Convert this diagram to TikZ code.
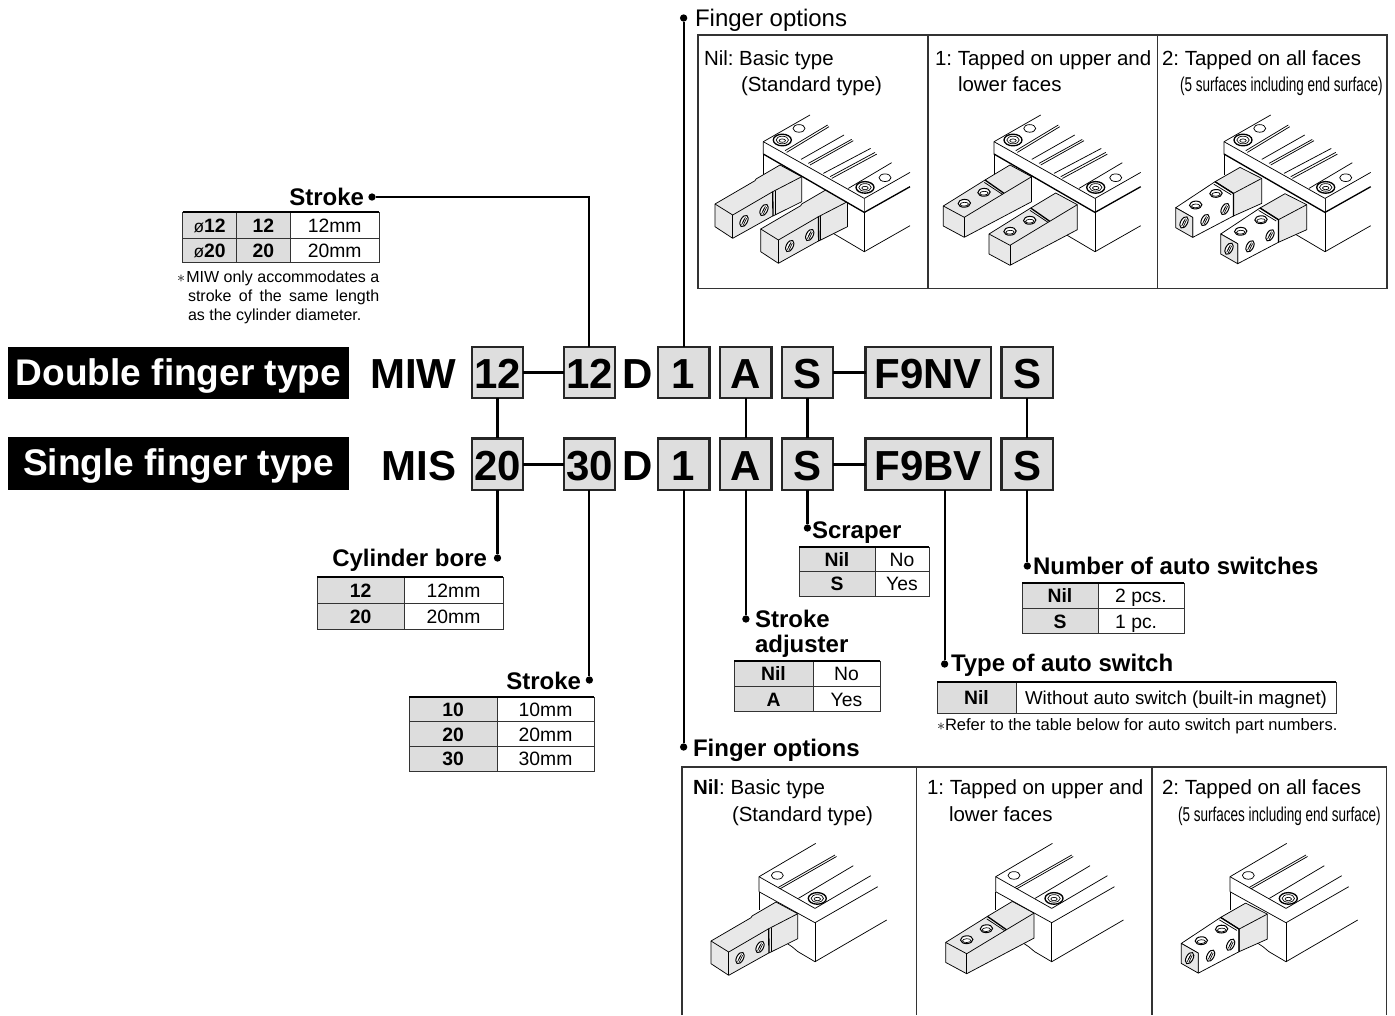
\documentclass[tikz,border=0pt]{standalone}
\usepackage{fontspec}
\setmainfont{Liberation Sans}
\newfontfamily\narrowfont[FakeStretch=0.675]{Liberation Sans}
\usepackage{tikz}
\usetikzlibrary{positioning,calc}
\definecolor{boxGray}{RGB}{222,222,222}
\definecolor{keyGray}{RGB}{221,221,221}
\definecolor{partGray}{RGB}{232,232,232}
\newcommand{\fs}[1]{\fontsize{#1}{#1}\selectfont}
\frenchspacing
\tikzset{
    codebox/.style={rectangle, draw=black!85, fill=boxGray, line width=1.8pt,
                  minimum width=#1, minimum height=38.5pt, inner sep=0pt, outer sep=0pt,
                  text height=24.5pt, text depth=0pt, font=\fs{31.5}\bfseries},
    codebox/.default=38.5pt,
    codetext/.style={inner sep=0pt, outer sep=0pt, text height=24.5pt, text depth=0pt,
                  font=\fs{31.5}\bfseries},
    bannerbox/.style={rectangle, fill=black, text=white, minimum width=255.75pt, minimum height=39.5pt,
                  inner sep=0pt, outer sep=0pt, text height=21pt, text depth=3pt, font=\fs{27.8}\bfseries},
    keycell/.style 2 args={rectangle, draw=black!80, fill=keyGray, line width=.7pt,
                  minimum width=#1, minimum height=#2, inner sep=0pt, outer sep=0pt,
                  text height=10.5pt, text depth=0pt, font=\fs{14.5}\bfseries},
    valcell/.style 2 args={rectangle, draw=black!80, line width=.7pt,
                  minimum width=#1, minimum height=#2, inner sep=0pt, outer sep=0pt,
                  text height=10.5pt, text depth=0pt, font=\fs{14.5}},
    tabtop/.style={draw, line width=1.4pt},
    titletext/.style={inner sep=0pt, outer sep=0pt, anchor=base west, font=\fs{18}\bfseries},
    paneltext/.style={inner sep=0pt, outer sep=0pt, anchor=base west, font=\fs{15.35}},
    notetext/.style={inner sep=0pt, outer sep=0pt, anchor=base west, font=\fs{12}},
    dot/.style={circle, fill=black, inner sep=0pt, outer sep=0pt, minimum size=5.5pt},
    rowline/.style={draw, line width=2.2pt},
    tieline/.style={draw, line width=1.6pt},
    panelline/.style={draw=black!80, line width=.8pt},
    part/.style={draw, line width=.55pt, line join=round},
    partfill/.style={part, fill=partGray},
    heavy/.style={draw, line width=1pt},
    thin/.style={draw, line width=.5pt},
    holeline/.style={draw, line width=.75pt}
}
% finger with side holes, drawn from its upper left corner
\newcommand{\sidehole}[1]{
  \draw[holeline, fill=white] (#1) ellipse [x radius=3.4, y radius=6.2, rotate=-28];
  \draw[thin] ($(#1)+(-2.4,3.6)$) -- ($(#1)+(1.4,-3.8)$);
  \draw[thin] ($(#1)+(-.8,4.4)$) -- ($(#1)+(2.6,-2.8)$);
  \draw[thin] ($(#1)+(-1.2,1.2)$) -- ($(#1)+(.4,-2)$);
}
\newcommand{\tophole}[1]{
  \draw[holeline, fill=white] (#1) ellipse [x radius=6.2, y radius=3.9, rotate=3];
  \draw[thin] ($(#1)+(0,.9)$) ellipse [x radius=4.2, y radius=1.9, rotate=3];
}
\newcommand{\fingerSide}{
  \path[partfill] (0,0) -- (40,-23.3) -- (41,-25) -- (65,-39) -- (86.7,-27.3) -- (86.7,-2.3)
    -- (60,11) -- (57.7,12) -- (17.7,34.3) -- (0,22.7) -- cycle;
  \draw[part] (0,0) -- (17.7,11) -- (57.7,-12.3) -- (86.7,-27.3);
  \draw[part] (17.7,11) -- (17.7,34.3);
  \draw[heavy] (57.7,-12.3) -- (58,12);
  \draw[part] (60,-13) -- (60,11);
  \sidehole{29,17}
  \sidehole{49,6}
}
\newcommand{\fingerTop}{
  \path[partfill] (0,0) -- (41.7,-26) -- (66.7,-41) -- (88.3,-29.3) -- (88.3,-4.3)
    -- (21,31.3) -- (0,20) -- cycle;
  \draw[part] (0,0) -- (21,11.3) -- (60.7,-12.7) -- (88.3,-29.3);
  \draw[part] (21,11.3) -- (21,31.3);
  \draw[heavy] (41.7,-26) -- (60.7,-12.7);
  \draw[part] (41,-23.6) -- (59,-11.7);
  \tophole{21,-2.7}
  \tophole{40.7,-13.7}
}
\newcommand{\fingerAll}{
  \path[partfill] (39.3,-26) -- (64.3,-40.3) -- (86,-29.3) -- (86,-4.3) -- (57.7,8.3) -- (57.7,-14.3) -- cycle;
  \path[part, fill=white] (0,0) -- (39.3,-26) -- (57.7,-14.3) -- (57.7,8.3) -- (17,29.7) -- (17,9.7) -- cycle;
  \path[partfill] (0,0) -- (17,9.7) -- (17,29.7) -- (0,20) -- cycle;
  \draw[part] (57.7,-14.3) -- (86,-29.3);
  \draw[heavy] (39.3,-26) -- (57.7,-14.3) -- (57.7,8.3);
  \draw[part] (38,-23.6) -- (55.5,-13);
  \tophole{20,-2.7}
  \tophole{40.3,-14.3}
  \sidehole{29.3,12.3}
  \sidehole{49.3,1.3}
  \sidehole{8.3,14.7}
}
\newcommand{\bolthole}[1]{
  \draw[heavy, fill=white] (#1) ellipse [x radius=9, y radius=5.8];
  \draw[thin] (#1) ellipse [x radius=6.2, y radius=3.8];
  \draw[thin] ($(#1)+(0,.6)$) ellipse [x radius=3.2, y radius=1.7];
}
\newcommand{\bodyDouble}[1]{
  \draw[part] (0,12.3) -- (0,33);
  \draw[part] (101,56.7) -- (101,110);
  \draw[part] (146.7,84) -- (101,110) -- (70,91.7);
  #1
  \path[fill=white] (0,0) -- (46.7,-26.7) -- (146.7,-26.7) -- (146.7,30.7) -- (101,56.7) -- (101,70.7) -- (0,12.3) -- cycle;
  \draw[part] (46.7,-26.7) -- (0,0) -- (0,12.3);
  \draw[heavy] (0,12.3) -- (101,70.7) -- (146.7,45);
  \draw[part] (0,0) -- (101,56.7) -- (146.7,30.7);
  \draw[part] (21.7,9) -- (64.3,-16.7) (23.3,10.7) -- (65.7,-15);
  \draw[part] (37.7,17.7) -- (80.7,-6.7);
  \draw[part] (45,21.7) -- (88.3,-2.3) (46.7,23.3) -- (90,-1);
  \draw[part] (60,31.7) -- (107.3,6.7);
  \draw[part] (66.7,35) -- (111.7,10.7) (68.4,36.7) -- (113.4,12.4);
  \draw[part] (85,46.7) -- (128.3,21);
  \bolthole{19,-1.7}
  \bolthole{101.7,45.7}
  \draw[part] (35.7,-13.3) ellipse [x radius=6, y radius=3.8];
  \draw[part] (121.7,36) ellipse [x radius=6, y radius=3.8];
}
\newcommand{\bodySingle}[1]{
  \draw[part] (0,15) -- (0,33.3);
  \draw[part] (56,31.7) -- (56,85);
  \draw[part] (127.7,43.3) -- (56,85) -- (39,75) -- (33,70) -- (27,66);
  #1
  \path[fill=white] (0,0) -- (56.7,-33.3) -- (118.7,-33.3) -- (118.7,10) -- (56,46) -- (0,15) -- cycle;
  \draw[part] (56.7,-33.3) -- (0,0) -- (0,15);
  \draw[part] (0,15) -- (56,46) -- (118.7,10);
  \draw[part] (0,0) -- (56,31.7) -- (111.7,-1);
  \draw[part] (19.3,10.7) -- (76,-21.7) (20.8,12.2) -- (77.5,-20.2);
  \draw[part] (39.3,21.7) -- (94.3,-11);
  \bolthole{58.3,21.7}
  \draw[part] (18.3,-1.3) ellipse [x radius=6, y radius=3.8];
}
\begin{document}
\begin{tikzpicture}[x=.75pt, y=-.75pt]
  \useasboundingbox (0,0) rectangle (1395,1015);

  \node [bannerbox] (doubleBanner) at (178.5,373) {Double finger type};
  \node [bannerbox] (singleBanner) at (178.5,463.7) {Single finger type};

  \node [codebox] (b1) at (497.5,372.5) {12};
  \node [codebox, right=30.4pt of b1] (b2) {12};
  \node [codebox, right=32.2pt of b2] (b3) {1};
  \node [codebox, right=8.2pt of b3] (b4) {A};
  \node [codebox, right=7.65pt of b4] (b5) {S};
  \node [codebox=94.2pt, right=24.3pt of b5] (b6) {F9NV};
  \node [codebox, right=7.9pt of b6] (b7) {S};
  \node [codetext, left=11.5pt of b1] (miw) {MIW};
  \node [codetext, right=5.6pt of b2] (d1) {D};

  \node [codebox, below=30.15pt of b1] (c1) {20};
  \node [codebox, below=30.15pt of b2] (c2) {30};
  \node [codebox, below=30.15pt of b3] (c3) {1};
  \node [codebox, below=30.15pt of b4] (c4) {A};
  \node [codebox, below=30.15pt of b5] (c5) {S};
  \node [codebox=94.2pt, below=30.15pt of b6] (c6) {F9BV};
  \node [codebox, below=30.15pt of b7] (c7) {S};
  \node [codetext, left=11.5pt of c1] (mis) {MIS};
  \node [codetext, right=5.6pt of c2] (d2) {D};

  \draw[rowline] (b1) -- (b2);
  \draw[rowline] (b5) -- (b6);
  \draw[rowline] (c1) -- (c2);
  \draw[rowline] (c5) -- (c6);
  \draw[tieline] (b1) -- (c1);
  \draw[tieline] (b4) -- (c4);
  \draw[tieline] (b5) -- (c5);
  \draw[tieline] (b7) -- (c7);

  \node [dot] (dotFingerTop) at (b3 |- 0,18) {};
  \node [titletext, font=\fs{18}] (fingerTop) at (695,26) {Finger options};
  \draw[tieline] (dotFingerTop) -- (b3);

  \node [dot] (dotStrokeTop) at (372,197) {};
  \node [titletext, anchor=base east] (strokeTop) at (364,205) {Stroke};
  \draw[tieline] (dotStrokeTop) -| (b2.north);
  \node [keycell={40.5pt}{19.4pt}, anchor=north west, font=\fs{14.5}] (st1) at (182.7,212.3) {{\fs{13}ø}\textbf{12}};
  \node [keycell={40pt}{19.4pt}, right=0pt of st1] (st2) {12};
  \node [valcell={67pt}{19.4pt}, right=0pt of st2] (st3) {12mm};
  \node [keycell={40.5pt}{18.4pt}, below=0pt of st1, font=\fs{14.5}] (st4) {{\fs{13}ø}\textbf{20}};
  \node [keycell={40pt}{18.4pt}, below=0pt of st2] (st5) {20};
  \node [valcell={67pt}{18.4pt}, below=0pt of st3] (st6) {20mm};
  \draw[tabtop] (st1.north west) -- (st3.north east);
  \node [notetext] (note1) at (177,282) {{\fs{12}$\ast$}\kern1pt MIW only accommodates a};
  \node [notetext] (note2) at (188,301) {\makebox[143.4pt][s]{stroke of the same length}};
  \node [notetext] (note3) at (188,320.5) {as the cylinder diameter.};

  \node [dot] (dotBore) at (c1 |- 0,558) {};
  \node [titletext, anchor=base east] (bore) at (487,566) {Cylinder bore};
  \draw[tieline] (c1) -- (dotBore);
  \node [keycell={65.25pt}{19.5pt}, anchor=north west] (bo1) at (317,577) {12};
  \node [valcell={74.25pt}{19.5pt}, right=0pt of bo1] (bo2) {12mm};
  \node [keycell={65.25pt}{19.5pt}, below=0pt of bo1] (bo3) {20};
  \node [valcell={74.25pt}{19.5pt}, below=0pt of bo2] (bo4) {20mm};
  \draw[tabtop] (bo1.north west) -- (bo2.north east);

  \node [dot] (dotStroke) at (c2 |- 0,680) {};
  \node [titletext, anchor=base east] (stroke) at (581,689) {Stroke};
  \draw[tieline] (c2) -- (dotStroke);
  \node [keycell={66pt}{18.5pt}, anchor=north west] (sr1) at (409,697) {10};
  \node [valcell={72.75pt}{18.5pt}, right=0pt of sr1] (sr2) {10mm};
  \node [keycell={66pt}{18.5pt}, below=0pt of sr1] (sr3) {20};
  \node [valcell={72.75pt}{18.5pt}, below=0pt of sr2] (sr4) {20mm};
  \node [keycell={66pt}{18.5pt}, below=0pt of sr3] (sr5) {30};
  \node [valcell={72.75pt}{18.5pt}, below=0pt of sr4] (sr6) {30mm};
  \draw[tabtop] (sr1.north west) -- (sr2.north east);

  \node [dot] (dotScraper) at (c5 |- 0,528) {};
  \node [titletext] (scraper) at (812,538) {Scraper};
  \draw[tieline] (c5) -- (dotScraper);
  \node [keycell={57pt}{18.4pt}, anchor=north west] (sc1) at (799,547) {Nil};
  \node [valcell={40.5pt}{18.4pt}, right=0pt of sc1] (sc2) {No};
  \node [keycell={57pt}{18.4pt}, below=0pt of sc1] (sc3) {S};
  \node [valcell={40.5pt}{18.4pt}, below=0pt of sc2] (sc4) {Yes};
  \draw[tabtop] (sc1.north west) -- (sc2.north east);

  \node [dot] (dotAdjuster) at (c4 |- 0,619) {};
  \node [titletext] (adjusterA) at (755,627) {Stroke};
  \node [titletext] (adjusterB) at (755,652) {adjuster};
  \draw[tieline] (c4) -- (dotAdjuster);
  \node [keycell={59.25pt}{19.1pt}, anchor=north west] (ad1) at (734,661) {Nil};
  \node [valcell={50.25pt}{19.1pt}, right=0pt of ad1] (ad2) {No};
  \node [keycell={59.25pt}{19.1pt}, below=0pt of ad1] (ad3) {A};
  \node [valcell={50.25pt}{19.1pt}, below=0pt of ad2] (ad4) {Yes};
  \draw[tabtop] (ad1.north west) -- (ad2.north east);

  \node [dot] (dotNumber) at (c7 |- 0,566) {};
  \node [titletext] (number) at (1033,574) {Number of auto switches};
  \draw[tieline] (c7) -- (dotNumber);
  \node [keycell={57pt}{19.1pt}, anchor=north west] (nu1) at (1022,583) {Nil};
  \node [valcell={64.5pt}{19.1pt}, right=0pt of nu1] (nu2) {2 pcs.};
  \node [keycell={57pt}{19.1pt}, below=0pt of nu1] (nu3) {S};
  \node [valcell={64.5pt}{19.1pt}, below=0pt of nu2] (nu4) {1 pc.\hphantom{s}};
  \draw[tabtop] (nu1.north west) -- (nu2.north east);

  \node [dot] (dotType) at (944.6,664) {};
  \node [titletext] (type) at (951,671) {Type of auto switch};
  \draw[tieline] (c6.south -| dotType) -- (dotType);
  \node [keycell={59.25pt}{23.25pt}, anchor=north west] (ty1) at (937,682) {Nil};
  \node [valcell={240pt}{23.25pt}, right=0pt of ty1, font=\fs{14}] (ty2) {Without auto switch (built-in magnet)};
  \draw[tabtop] (ty1.north west) -- (ty2.north east);
  \node [notetext, font=\fs{12.4}] (note4) at (937,730) {{\fs{12}$\ast$}Refer to the table below for auto switch part numbers.};

  \node [dot] (dotFingerBottom) at (c3 |- 0,747) {};
  \node [titletext] (fingerBottom) at (693,756) {Finger options};
  \draw[tieline] (c3) -- (dotFingerBottom);

  \draw[panelline] (698,35) rectangle (1387,288.5);
  \draw[panelline] (928,35) -- (928,288.5);
  \draw[panelline] (1157.5,35) -- (1157.5,288.5);
  \node [paneltext] (topNil) at (704,65) {Nil: Basic type};
  \node [paneltext] (topStd) at (741,91) {(Standard type)};
  \node [paneltext] (topOne) at (935,65) {1: Tapped on upper and};
  \node [paneltext] (topLow) at (958,91) {lower faces};
  \node [paneltext] (topTwo) at (1162,65) {2: Tapped on all faces};
  \node [paneltext, font=\fs{15}\narrowfont] (topSur) at (1180,91) {(5 surfaces including end surface)};

  \draw[panelline] (682,1015) -- (682,767) -- (1386.5,767) -- (1386.5,1015);
  \draw[panelline] (916.5,767) -- (916.5,1015);
  \draw[panelline] (1152,767) -- (1152,1015);
  \node [paneltext] (lowNil) at (693,794) {\textbf{Nil}: Basic type};
  \node [paneltext] (lowStd) at (732,821) {(Standard type)};
  \node [paneltext] (lowOne) at (927,794) {1: Tapped on upper and};
  \node [paneltext] (lowLow) at (949,821) {lower faces};
  \node [paneltext] (lowTwo) at (1162,794) {2: Tapped on all faces};
  \node [paneltext, font=\fs{15}\narrowfont] (lowSur) at (1178,821) {(5 surfaces including end surface)};

  \begin{scope}[shift={(763.3,141.7)}]
    \bodyDouble{
      \begin{scope}[shift={(-48.3,62.3)}] \fingerSide \end{scope}
      \begin{scope}[shift={(-2.6,87.3)}] \fingerSide \end{scope}
    }
  \end{scope}
  \begin{scope}[shift={(994,141.7)}]
    \bodyDouble{
      \begin{scope}[shift={(-50.7,64.3)}] \fingerTop \end{scope}
      \begin{scope}[shift={(-5,92.3)}] \fingerTop \end{scope}
    }
  \end{scope}
  \begin{scope}[shift={(1224,141.7)}]
    \bodyDouble{
      \begin{scope}[shift={(-48.3,66)}] \fingerAll \end{scope}
      \begin{scope}[shift={(-3.3,92.3)}] \fingerAll \end{scope}
    }
  \end{scope}
  \begin{scope}[shift={(759,876.7)}]
    \bodySingle{\begin{scope}[shift={(-48,64.3)}] \fingerSide \end{scope}}
  \end{scope}
  \begin{scope}[shift={(995.7,876.7)}]
    \bodySingle{\begin{scope}[shift={(-50,65.7)}] \fingerTop \end{scope}}
  \end{scope}
  \begin{scope}[shift={(1230,876.7)}]
    \bodySingle{\begin{scope}[shift={(-48.7,66.7)}] \fingerAll \end{scope}}
  \end{scope}
\end{tikzpicture}
\end{document}
